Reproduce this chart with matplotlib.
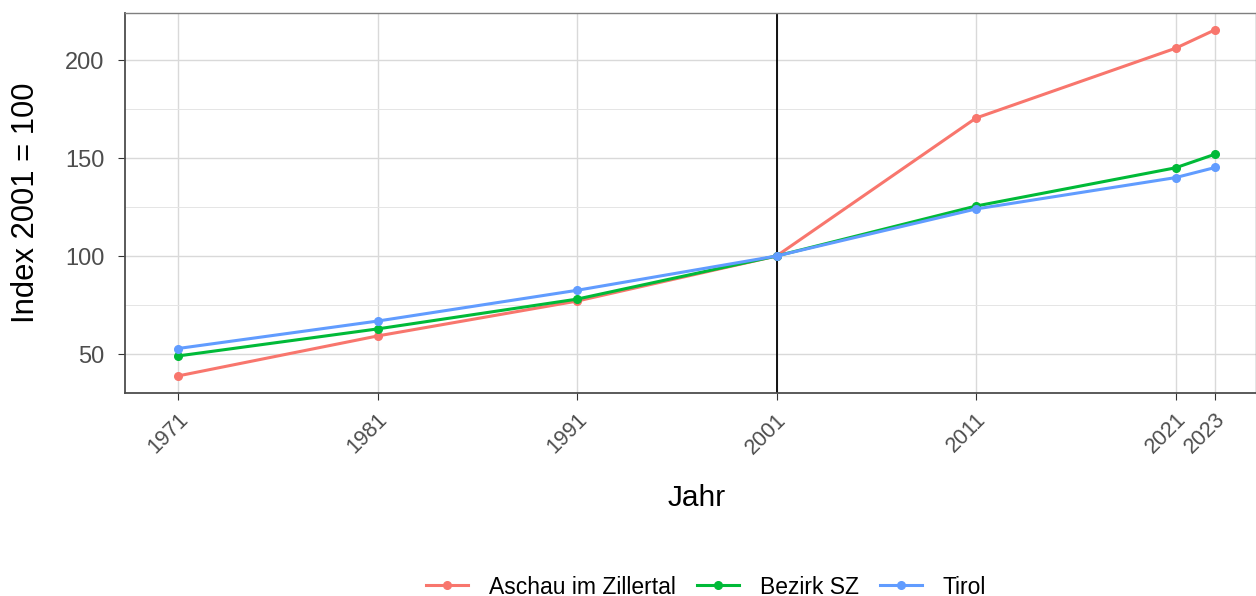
import matplotlib.pyplot as plt
from matplotlib.transforms import ScaledTranslation

plt.rcParams['font.family'] = ['Liberation Sans', 'DejaVu Sans']

years = [1971, 1981, 1991, 2001, 2011, 2021, 2023]
aschau = [38.8, 59.2, 77.0, 100, 170.4, 206.0, 215.5]
bezirk = [49.0, 62.8, 78.0, 100, 125.5, 145.0, 152.0]
tirol = [52.8, 66.8, 82.5, 100, 124.0, 140.0, 145.2]
series_names = ['Aschau im Zillertal', 'Bezirk SZ', 'Tirol']
colors = ['#F8766D', '#00BA38', '#619CFF']

fig = plt.figure(figsize=(12.56, 5.96), dpi=100)
ax = fig.add_axes([125 / 1256, 1 - 393 / 596, 1 - 125 / 1256, 380 / 596])

for name, vals, c in zip(series_names, [aschau, bezirk, tirol], colors):
    ax.plot(years, vals, color=c, lw=2.2, marker='o', ms=5.5, label=name, zorder=3)

ax.axvline(2001, color='black', lw=1.3, zorder=2)

ax.set_xlim(1971 - (178 - 125) / 19.95, 1971 + (1256 - 178) / 19.95)
ax.set_ylim(30.1, 224)
ax.set_xticks(years)
ax.set_xticklabels([str(y) for y in years], rotation=45, ha='right', va='center',
                   rotation_mode='anchor', fontsize=15.5, color='#4d4d4d')
ax.set_yticks([50, 100, 150, 200])
ax.set_yticks([75, 125, 175], minor=True)
ax.tick_params(axis='y', labelsize=17, labelcolor='#4d4d4d', length=5, color='#333333', pad=10)
ax.tick_params(axis='x', length=5, color='#333333', pad=12)
ax.tick_params(which='minor', length=0)
for lbl in ax.get_xticklabels():
    lbl.set_transform(lbl.get_transform() + ScaledTranslation(5 / 72, 0, fig.dpi_scale_trans))
ax.grid(True, which='major', color='#d9d9d9', lw=1.0)
ax.grid(True, which='minor', axis='y', color='#e5e5e5', lw=0.7)
ax.set_axisbelow(True)

for side in ['top', 'right']:
    ax.spines[side].set_color('#7f7f7f')
    ax.spines[side].set_linewidth(1.0)
for side in ['bottom', 'left']:
    ax.spines[side].set_color('#4d4d4d')
    ax.spines[side].set_linewidth(1.3)

ax.set_xlabel('Jahr', fontsize=21.5)
ax.xaxis.set_label_coords((697 - 125) / (1256 - 125), -(484 - 393) / 380)
ax.set_ylabel('Index 2001 = 100', fontsize=22.3)
ax.yaxis.set_label_coords(-(125 - 41) / (1256 - 125), (393 - 203) / 380)

handles, labels = ax.get_legend_handles_labels()
fig.legend(handles, labels, loc='center', bbox_to_anchor=(706 / 1256, 1 - 587 / 596),
           ncol=3, frameon=False, fontsize=16.5, handlelength=1.83, columnspacing=0.92,
           handletextpad=0.92)

fig.savefig('out.png', dpi=100)
